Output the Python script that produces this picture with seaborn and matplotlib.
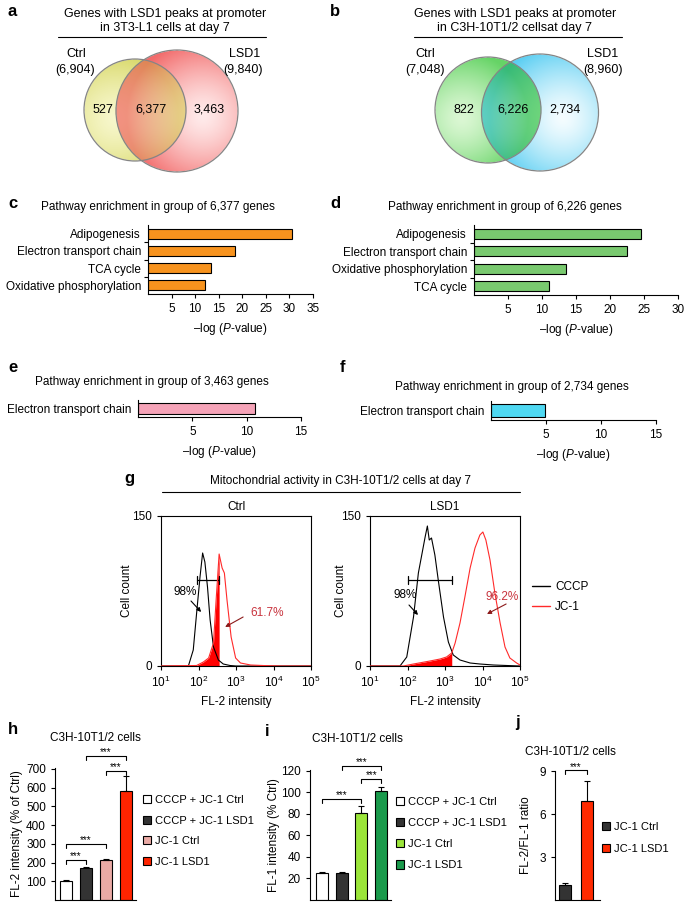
import numpy as np
import pandas as pd
import seaborn as sns
import matplotlib.pyplot as plt
from matplotlib.patches import Circle, Patch
from matplotlib.lines import Line2D

W, H = 685, 902

# ---------------- data ----------------
venn_a_counts = ['527', '6,377', '3,463']
venn_a_totals = ['(6,904)', '(9,840)']
venn_b_counts = ['822', '6,226', '2,734']
venn_b_totals = ['(7,048)', '(8,960)']

c_paths = ['Adipogenesis', 'Electron transport chain', 'TCA cycle', 'Oxidative phosphorylation']
c_vals = [30.6, 18.5, 13.3, 12.0]
d_paths = ['Adipogenesis', 'Electron transport chain', 'Oxidative phosphorylation', 'TCA cycle']
d_vals = [24.6, 22.5, 13.5, 11.0]
e_paths = ['Electron transport chain']
e_vals = [10.8]
f_paths = ['Electron transport chain']
f_vals = [4.9]

# flow cytometry histograms: log10(FL-2 intensity) and cell count
ctrl_cccp_log = [1.0, 1.73, 1.86, 1.95, 2.04, 2.11, 2.17, 2.24, 2.31, 2.40, 2.53, 2.66, 2.84, 3.0, 5.0]
ctrl_cccp_n = [0, 0, 16, 53, 89, 113, 104, 79, 46, 19, 6, 2, 0.5, 0, 0]
ctrl_jc1_log = [1.0, 1.95, 2.13, 2.27, 2.40, 2.47, 2.55, 2.63, 2.69, 2.76, 2.87, 2.99, 3.12, 3.39, 3.84, 4.2, 5.0]
ctrl_jc1_n = [0, 0.5, 4, 8, 23, 66, 112, 98, 93, 66, 29, 8, 3, 1, 0.3, 0, 0]
lsd1_cccp_log = [1.0, 1.8, 1.98, 2.16, 2.29, 2.38, 2.47, 2.53, 2.58, 2.64, 2.73, 2.82, 2.96, 3.09,
                 3.22, 3.4, 3.67, 3.93, 4.29, 4.64, 5.0]
lsd1_cccp_n = [0, 0, 9, 49, 93, 111, 129, 140, 126, 128, 111, 86, 49, 24, 11, 6, 3, 2, 1, 0.5, 0]
lsd1_jc1_log = [1.0, 1.89, 2.16, 2.6, 2.87, 3.04, 3.18, 3.27, 3.4, 3.53, 3.67, 3.8, 3.93, 4.01,
                4.09, 4.2, 4.33, 4.47, 4.6, 4.73, 4.91, 5.0]
lsd1_jc1_n = [0, 0, 2, 5, 7, 9, 13, 23, 43, 69, 98, 118, 131, 134, 126, 106, 73, 43, 19, 8, 3, 1]
gate_ctrl = [1.95, 2.55]
gate_lsd1 = [2.01, 3.18]
pct_ctrl = ['98%', '61.7%']
pct_lsd1 = ['98%', '96.2%']

h_groups = ['CCCP + JC-1 Ctrl', 'CCCP + JC-1 LSD1', 'JC-1 Ctrl', 'JC-1 LSD1']
h_vals = [104, 171, 216, 582]
h_err = [4, 6, 5, 80]
i_groups = ['CCCP + JC-1 Ctrl', 'CCCP + JC-1 LSD1', 'JC-1 Ctrl', 'JC-1 LSD1']
i_vals = [25, 25, 80.5, 101]
i_err = [0.8, 0.5, 7, 4]
j_groups = ['JC-1 Ctrl', 'JC-1 LSD1']
j_vals = [1.05, 6.95]
j_err = [0.15, 1.35]

# significance brackets (left bar, right bar, height)
h_brackets = [(1, 3, 770), (2, 3, 690), (0, 2, 300), (0, 1, 215)]
i_brackets = [(1, 3, 124.5), (2, 3, 112.5), (0, 2, 94)]
j_brackets = [(0, 1, 9.07)]

# ---------------- style ----------------
sns.set_style('ticks', {'axes.edgecolor': 'black', 'xtick.color': 'black', 'ytick.color': 'black',
                        'text.color': 'black', 'axes.labelcolor': 'black'})
plt.rcParams['font.family'] = ['Liberation Sans', 'DejaVu Sans']
plt.rcParams.update({
    'mathtext.fontset': 'custom', 'mathtext.rm': 'Liberation Sans',
    'mathtext.it': 'Liberation Sans:italic', 'mathtext.bf': 'Liberation Sans:bold',
    'font.size': 8.5, 'axes.linewidth': 0.8,
    'xtick.major.width': 0.8, 'ytick.major.width': 0.8,
    'xtick.major.size': 3, 'ytick.major.size': 3,
    'xtick.labelsize': 8.5, 'ytick.labelsize': 8.5, 'axes.labelsize': 8.5,
})

fig = plt.figure(figsize=(W / 100, H / 100), dpi=100)

# overlay axes in pixel units for venns, titles and panel letters
ax0 = fig.add_axes([0, 0, 1, 1])


def px_axes(l, t, r, b):
    return fig.add_axes([l / W, 1 - b / H, (r - l) / W, (b - t) / H])


def venn(circles, box, soften):
    x0, x1, y0, y1 = box
    nx, ny = int((x1 - x0) * 2), int((y1 - y0) * 2)
    xx, yy = np.meshgrid(np.linspace(x0, x1, nx), np.linspace(y0, y1, ny))
    img = np.ones((ny, nx, 3))
    k = np.zeros((ny, nx))
    for cx, cy, r, hx, hy, edge, light in circles:
        inside = np.hypot(xx - cx, yy - cy) <= r
        t = np.clip(np.hypot(xx - hx, yy - hy) / (r * 1.25), 0, 1) ** 1.4
        col = np.array(light) * (1 - t[..., None]) + np.array(edge) * t[..., None]
        img = np.where(inside[..., None], img * col, img)
        k += inside
    # soften the multiplied overlap a little
    img = img ** np.where(k > 1, soften, 1.0)[..., None]
    ax0.imshow(np.dstack([img, (k > 0).astype(float)]), extent=(x0, x1, y1, y0), origin='upper',
               aspect='auto', interpolation='bilinear', zorder=1)
    for cx, cy, r, *_ in circles:
        ax0.add_patch(Circle((cx, cy), r, fill=False, ec='#858585', lw=0.9, zorder=2))


venn([(135, 110, 51, 115, 118, (0.85, 0.85, 0.42), (0.97, 0.97, 0.80)),
      (177, 111, 61, 203, 116, (0.95, 0.42, 0.42), (1.0, 0.92, 0.92))], (80, 245, 45, 177), 0.62)
venn([(488, 110, 53, 462, 118, (0.40, 0.83, 0.40), (0.86, 0.97, 0.83)),
      (540, 112.5, 58.5, 563, 118, (0.36, 0.81, 0.95), (0.96, 0.99, 1.0))], (430, 605, 50, 175), 0.78)

for (x, lbl), tot in zip([(76, 'Ctrl'), (245, 'LSD1')], venn_a_totals):
    ax0.text(x, 54, lbl, ha='center', va='center', fontsize=9)
    ax0.text(x - 1 if lbl == 'Ctrl' else x - 2, 70, tot, ha='center', va='center', fontsize=9)
for x, n in zip([103, 151, 209], venn_a_counts):
    ax0.text(x, 110, n, ha='center', va='center', fontsize=9, zorder=3)
for (x, lbl), tot in zip([(425, 'Ctrl'), (603, 'LSD1')], venn_b_totals):
    ax0.text(x, 54, lbl, ha='center', va='center', fontsize=9)
    ax0.text(x, 70, tot, ha='center', va='center', fontsize=9)
for x, n in zip([464, 513, 565], venn_b_counts):
    ax0.text(x, 110, n, ha='center', va='center', fontsize=9, zorder=3)

ax0.text(165, 21, 'Genes with LSD1 peaks at promoter\nin 3T3-L1 cells at day 7',
         ha='center', va='center', fontsize=9, linespacing=1.15)
ax0.text(515, 21, 'Genes with LSD1 peaks at promoter\nin C3H-10T1/2 cellsat day 7',
         ha='center', va='center', fontsize=9, linespacing=1.15)
ax0.plot([58, 266], [37, 37], color='black', lw=0.8)
ax0.plot([414, 622], [37, 37], color='black', lw=0.8)
ax0.plot([162, 520], [492, 492], color='black', lw=0.8)

titles = [(158, 207, 'Pathway enrichment in group of 6,377 genes'),
          (505, 207, 'Pathway enrichment in group of 6,226 genes'),
          (152, 382, 'Pathway enrichment in group of 3,463 genes'),
          (512, 387, 'Pathway enrichment in group of 2,734 genes'),
          (341, 481, 'Mitochondrial activity in C3H-10T1/2 cells at day 7'),
          (95, 738, 'C3H-10T1/2 cells'), (357, 739, 'C3H-10T1/2 cells'),
          (570, 752, 'C3H-10T1/2 cells')]
for x, y, s in titles:
    ax0.text(x, y, s, ha='center', va='center', fontsize=8.5)

letters = [(8, 12, 'a'), (330, 12, 'b'), (8, 204, 'c'), (330, 204, 'd'), (8, 368, 'e'),
           (340, 368, 'f'), (124, 478, 'g'), (8, 729, 'h'), (265, 731, 'i'), (515, 722, 'j')]
for x, y, s in letters:
    ax0.text(x, y, s, ha='left', va='center', fontsize=12, fontweight='bold')

ax0.set_xlim(0, W)
ax0.set_ylim(H, 0)
ax0.axis('off')


# ---------------- pathway enrichment bars ----------------
def hbar(rect, paths, vals, color, xmax, xticks, width):
    ax = px_axes(*rect)
    df = pd.DataFrame({'pathway': paths, 'value': vals})
    sns.barplot(data=df, x='value', y='pathway', orient='h', color=color, saturation=1,
                edgecolor='black', linewidth=0.8, width=width, ax=ax)
    ax.set_xlim(0, xmax)
    ax.set_xticks(xticks)
    ax.set_ylabel('')
    ax.set_xlabel(r'–log ($\mathit{P}$-value)')
    ax.tick_params(axis='y', which='major', length=0, pad=5)
    if len(paths) > 1:
        ax.set_yticks(np.arange(len(paths) - 1) + 0.5, minor=True)
        ax.tick_params(axis='y', which='minor', length=3, width=0.8)
    sns.despine(ax=ax)
    return ax


hbar((148, 225, 313, 294), c_paths, c_vals, '#f7931e', 35, range(5, 36, 5), 0.58)
hbar((474, 225, 678, 295), d_paths, d_vals, '#79c96f', 30, range(5, 31, 5), 0.58)
hbar((138, 400, 301, 417), e_paths, e_vals, '#f5a3b8', 15, [5, 10, 15], 0.6)
hbar((491, 401, 656, 420), f_paths, f_vals, '#4fd8f2', 15, [5, 10, 15], 0.7)


# ---------------- flow cytometry ----------------
def flow(rect, c_log, c_n, j_log, j_n, gate, pcts, notes, title, lab_x):
    ax = px_axes(*rect)
    c_log, j_log, j_n = np.array(c_log), np.array(j_log), np.array(j_n)
    keep = j_log <= gate[1]
    ax.fill_between(10 ** j_log[keep], j_n[keep], color='#ff0000', lw=0, zorder=1)
    sns.lineplot(x=10 ** c_log, y=c_n, color='black', lw=0.8, estimator=None, sort=False, ax=ax, zorder=2)
    sns.lineplot(x=10 ** j_log, y=j_n, color='#ff2a2a', lw=0.8, estimator=None, sort=False, ax=ax, zorder=3)
    ax.set_xscale('log')
    ax.set_xlim(10, 1e5)
    ax.set_ylim(0, 150)
    ax.set_xticks([10, 100, 1e3, 1e4, 1e5])
    ax.minorticks_off()
    ax.set_yticks([0, 150])
    g0, g1 = 10 ** gate[0], 10 ** gate[1]
    ax.plot([g0, g1], [86, 86], color='black', lw=0.9)
    ax.plot([g0, g0], [82, 90], color='black', lw=0.9)
    ax.plot([g1, g1], [82, 90], color='black', lw=0.9)
    (t1, a1s, a1e), (t2, a2s, a2e) = notes
    ax.text(10 ** t1[0], t1[1], pcts[0], ha='center', va='center', fontsize=8.5)
    ax.text(10 ** t2[0], t2[1], pcts[1], ha='center', va='center', fontsize=8.5, color='#c8323c')
    for (s, e), col in [((a1s, a1e), 'black'), ((a2s, a2e), '#8c1a1a')]:
        ax.annotate('', xy=(10 ** e[0], e[1]), xytext=(10 ** s[0], s[1]),
                    arrowprops=dict(arrowstyle='-|>', color=col, lw=0.8, mutation_scale=6,
                                    shrinkA=0, shrinkB=0))
    ax.set_title(title, fontsize=8.5, pad=4)
    ax.set_xlabel('FL-2 intensity')
    ax.set_ylabel('Cell count')
    ax.yaxis.set_label_coords(lab_x, 0.5)
    return ax


flow((161, 516, 311, 666), ctrl_cccp_log, ctrl_cccp_n, ctrl_jc1_log, ctrl_jc1_n, gate_ctrl, pct_ctrl,
     [((1.64, 74), (1.80, 65), (2.07, 54)), ((3.83, 53), (3.19, 49), (2.71, 39))], 'Ctrl', -0.187)
axg = flow((370, 516, 520, 666), lsd1_cccp_log, lsd1_cccp_n, lsd1_jc1_log, lsd1_jc1_n, gate_lsd1, pct_lsd1,
           [((1.93, 71), (2.04, 61), (2.28, 51)), ((4.52, 69), (4.63, 62), (4.12, 52))], 'LSD1', -0.153)
axg.legend([Line2D([], [], color='black', lw=1), Line2D([], [], color='#ff2a2a', lw=1)],
           ['CCCP', 'JC-1'], loc='upper left', bbox_to_anchor=(532 / W, 1 - 581 / H),
           bbox_transform=fig.transFigure, frameon=False, fontsize=8.5, handlelength=1.5,
           handletextpad=0.45, labelspacing=0.7, borderpad=0, borderaxespad=0)


# ---------------- bar charts h, i, j ----------------
def vbar(rect, groups, vals, errs, colors, xlim, ylim, yticks, brackets, ylabel, lab_x,
         leg_xy, spacing, width=0.6):
    ax = px_axes(*rect)
    sns.barplot(x=groups, y=vals, hue=groups, palette=colors, legend=False, saturation=1,
                edgecolor='black', linewidth=0.8, width=width, ax=ax)
    n = len(vals)
    ax.errorbar(np.arange(n), vals, yerr=[np.zeros(n), errs], fmt='none', ecolor='black',
                elinewidth=0.8, capsize=2.5, capthick=0.8)
    ax.set_xlim(*xlim)
    ax.set_ylim(*ylim)
    ax.set_yticks(yticks)
    ax.set_xticks([])
    ax.set_xlabel('')
    ax.set_ylabel(ylabel)
    ax.yaxis.set_label_coords(lab_x, 0.5)
    sns.despine(ax=ax)
    tip = 4 * (ylim[1] - ylim[0]) / (rect[3] - rect[1])
    for a, b, y in brackets:
        ax.plot([a, a, b, b], [y - tip, y, y, y - tip], color='black', lw=0.8, clip_on=False)
        ax.text((a + b) / 2, y + tip * 0.15, '***', ha='center', va='baseline', fontsize=7, clip_on=False)
    handles = [Patch(facecolor=c, edgecolor='black', linewidth=0.8) for c in colors]
    ax.legend(handles, groups, loc='upper left', bbox_to_anchor=(leg_xy[0] / W, 1 - leg_xy[1] / H),
              bbox_transform=fig.transFigure, frameon=False, fontsize=8, handlelength=0.75,
              handleheight=0.75, handletextpad=0.35, labelspacing=spacing, borderpad=0,
              borderaxespad=0)
    return ax


vbar((55, 768, 136, 900), h_groups, h_vals, h_err, ['white', '#333333', '#eaaaa5', '#ff2400'],
     (-0.55, 3.5), (0, 705), range(100, 701, 100), h_brackets, 'FL-2 intensity (% of Ctrl)', -0.40,
     (143, 795), 0.95)
vbar((310, 770, 391, 900), i_groups, i_vals, i_err, ['white', '#333333', '#9be53a', '#1a9a4c'],
     (-0.6, 3.5), (0, 120.5), range(20, 121, 20), i_brackets, 'FL-1 intensity (% Ctrl)', -0.37,
     (396, 797), 1.0)
vbar((555, 771, 600, 900), j_groups, j_vals, j_err, ['#333333', '#ff2a00'],
     (-0.45, 1.6), (0, 9.02), [3, 6, 9], j_brackets, 'FL-2/FL-1 ratio', -0.51,
     (602, 822), 1.05, width=0.52)

fig.savefig('out.png', dpi=100)
